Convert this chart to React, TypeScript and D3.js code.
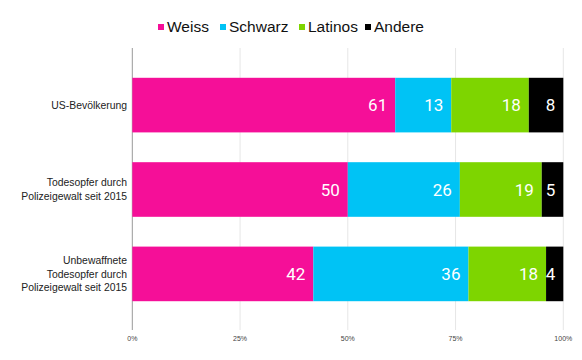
import React, { useEffect, useRef } from "react";
import * as d3 from "d3";

const categories = [
  ["US-Bevölkerung"],
  ["Todesopfer durch", "Polizeigewalt seit 2015"],
  ["Unbewaffnete", "Todesopfer durch", "Polizeigewalt seit 2015"],
];
const seriesNames = ["Weiss", "Schwarz", "Latinos", "Andere"];
const weiss = [61, 50, 42];
const schwarz = [13, 26, 36];
const latinos = [18, 19, 18];
const andere = [8, 5, 4];
const ticks = [0, 25, 50, 75, 100];
const colors = ["#f50f98", "#00c3f5", "#7ed500", "#000000"];

export default function App() {
  const ref = useRef<SVGSVGElement>(null);

  useEffect(() => {
    const width = 582,
      height = 360;
    const svg = d3.select(ref.current);
    svg.selectAll("*").remove();

    const x = d3.scaleLinear().domain([0, 100]).range([132.3, 563.3]);
    const y = d3
      .scaleBand()
      .domain(categories.map((_, i) => String(i)))
      .range([48, 331])
      .paddingInner(0.353)
      .paddingOuter(0.353);

    // gridlines
    svg
      .selectAll(".grid")
      .data(ticks)
      .enter()
      .append("line")
      .attr("x1", (d) => x(d))
      .attr("x2", (d) => x(d))
      .attr("y1", 48)
      .attr("y2", 330)
      .attr("stroke", (d) => (d === 0 ? "#999" : "#e6e6e6"))
      .attr("stroke-width", 1);

    svg
      .selectAll(".tick")
      .data(ticks)
      .enter()
      .append("text")
      .attr("x", (d) => x(d))
      .attr("y", 341)
      .attr("text-anchor", "middle")
      .attr("font-family", "Liberation Sans, Arial, sans-serif")
      .attr("font-size", 7)
      .attr("fill", "#444")
      .text((d) => d + "%");

    const rows = weiss.map((_, i) => ({
      Weiss: weiss[i],
      Schwarz: schwarz[i],
      Latinos: latinos[i],
      Andere: andere[i],
      idx: String(i),
    }));
    const stack = d3.stack<any>().keys(seriesNames)(rows);

    stack.forEach((layer, si) => {
      const g = svg.append("g");
      g.selectAll("rect")
        .data(layer)
        .enter()
        .append("rect")
        .attr("x", (d) => x(d[0]))
        .attr("width", (d) => x(d[1]) - x(d[0]))
        .attr("y", (d) => y(d.data.idx)!)
        .attr("height", y.bandwidth())
        .attr("fill", colors[si]);
      g.selectAll("text")
        .data(layer)
        .enter()
        .append("text")
        .attr("x", (d) => x(d[1]) - 8)
        .attr("y", (d) => y(d.data.idx)! + y.bandwidth() / 2)
        .attr("dy", "0.36em")
        .attr("text-anchor", "end")
        .attr("font-family", "Roboto, sans-serif")
        .attr("font-size", 17)
        .attr("fill", "#fff")
        .text((d) => d[1] - d[0]);
    });

    // category labels
    categories.forEach((lines, i) => {
      const cy = y(String(i))! + y.bandwidth() / 2;
      const lh = 13.5;
      const t = svg
        .append("text")
        .attr("text-anchor", "end")
        .attr("font-family", "Liberation Sans, Arial, sans-serif")
        .attr("font-size", 10.4)
        .attr("fill", "#222");
      lines.forEach((line, j) => {
        t.append("tspan")
          .attr("x", 127)
          .attr("y", cy + (j - (lines.length - 1) / 2) * lh)
          .attr("dy", "0.35em")
          .text(line);
      });
    });

    // legend
    const legendX = [158, 220, 299, 365];
    seriesNames.forEach((name, i) => {
      svg
        .append("rect")
        .attr("x", legendX[i])
        .attr("y", 24)
        .attr("width", 6)
        .attr("height", 6)
        .attr("fill", colors[i]);
      svg
        .append("text")
        .attr("x", legendX[i] + 9)
        .attr("y", 27)
        .attr("dy", "0.35em")
        .attr("font-family", "Liberation Sans, Arial, sans-serif")
        .attr("font-size", 15.5)
        .attr("fill", "#111")
        .text(name);
    });

    svg.attr("width", width).attr("height", height);
  }, []);

  return (
    <div style={{ margin: -8 }}>
      <svg ref={ref} width={582} height={360} style={{ display: "block" }} />
    </div>
  );
}
